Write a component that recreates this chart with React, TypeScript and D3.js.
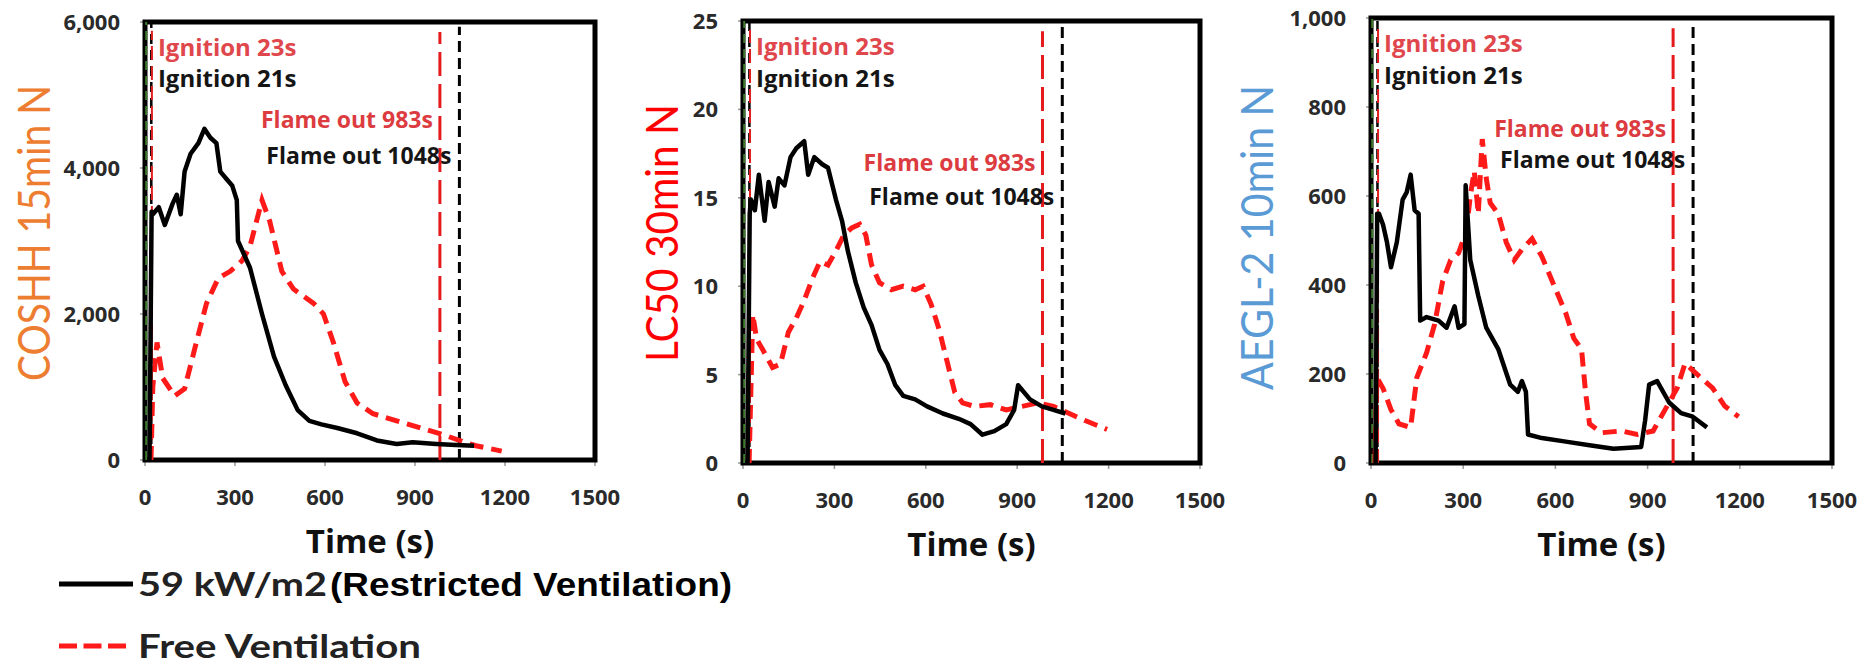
import React from 'react';
import * as d3 from 'd3';

// time axis shared by the three panels
const xTicks = [0, 300, 600, 900, 1200, 1500];

// COSHH 15min N
const coshhTicks = [0, 2000, 4000, 6000];
const coshhRestrictedT = [15, 22, 26, 46, 66, 92, 106, 119, 132, 152, 178, 198, 218, 238, 251, 271, 291, 306, 310, 350, 390, 430, 469, 509, 548, 588, 641, 707, 773, 839, 892, 971, 1037, 1097];
const coshhRestrictedV = [0, 3400, 3366, 3463, 3220, 3512, 3634, 3366, 3951, 4195, 4341, 4536, 4415, 4341, 3951, 3853, 3756, 3560, 3000, 2634, 2000, 1415, 1024, 683, 537, 488, 439, 366, 268, 220, 244, 220, 205, 195];
const coshhFreeT = [20, 26, 40, 59, 99, 132, 165, 205, 244, 284, 324, 350, 390, 416, 456, 495, 562, 595, 628, 667, 707, 760, 839, 918, 998, 1064, 1103, 1189];
const coshhFreeV = [0, 1000, 1610, 1122, 878, 976, 1512, 2146, 2488, 2585, 2732, 2927, 3561, 3268, 2585, 2341, 2146, 2000, 1610, 1073, 780, 634, 537, 439, 341, 244, 195, 122];

// LC50 30min N
const lc50Ticks = [0, 5, 10, 15, 20, 25];
const lc50RestrictedT = [15, 22, 26, 39, 52, 71, 84, 104, 117, 136, 156, 175, 201, 214, 234, 260, 279, 305, 325, 344, 370, 396, 422, 448, 474, 500, 526, 565, 604, 656, 708, 747, 786, 825, 864, 890, 903, 942, 981, 1019, 1058];
const lc50RestrictedV = [0, 14.1, 14.9, 14.3, 16.3, 13.7, 15.9, 14.5, 16.1, 15.7, 17.3, 17.8, 18.2, 16.3, 17.3, 16.9, 16.7, 14.9, 13.7, 12.0, 10.2, 8.8, 7.8, 6.4, 5.6, 4.4, 3.8, 3.6, 3.2, 2.8, 2.5, 2.2, 1.6, 1.8, 2.2, 3.0, 4.4, 3.6, 3.2, 3.0, 2.8];
const lc50FreeT = [20, 32, 45, 65, 97, 123, 149, 175, 201, 227, 253, 279, 305, 331, 357, 383, 403, 422, 448, 487, 526, 565, 591, 617, 643, 669, 695, 721, 760, 812, 864, 916, 968, 1019, 1071, 1123, 1195];
const lc50FreeV = [0, 8.4, 7.0, 6.4, 5.4, 5.6, 7.4, 8.2, 9.2, 10.4, 11.4, 11.2, 12.0, 12.9, 13.3, 13.5, 12.9, 11.2, 10.2, 9.8, 10.0, 9.8, 10.0, 9.0, 7.6, 5.8, 4.0, 3.4, 3.2, 3.3, 3.0, 3.2, 3.4, 3.2, 2.8, 2.4, 1.9];

// AEGL-2 10min N
const aeglTicks = [0, 200, 400, 600, 800, 1000];
const aeglRestrictedT = [15, 20, 26, 39, 52, 65, 84, 103, 116, 129, 142, 155, 160, 181, 220, 246, 272, 285, 304, 308, 323, 349, 375, 414, 453, 478, 491, 504, 511, 556, 634, 711, 789, 879, 892, 905, 931, 970, 1009, 1047, 1093];
const aeglRestrictedV = [0, 560, 560, 536, 496, 440, 496, 592, 608, 648, 568, 560, 320, 328, 320, 304, 352, 304, 312, 624, 456, 376, 304, 256, 176, 160, 184, 160, 64, 56, 48, 40, 32, 36, 96, 176, 184, 136, 112, 104, 80];
const aeglFreeT = [13, 19, 39, 65, 91, 129, 149, 181, 207, 233, 259, 285, 310, 323, 336, 349, 362, 375, 388, 414, 440, 466, 491, 524, 556, 595, 634, 660, 685, 698, 711, 750, 815, 866, 918, 957, 996, 1022, 1060, 1112, 1151, 1196];
const aeglFreeV = [0, 192, 168, 120, 88, 80, 192, 248, 312, 408, 456, 472, 520, 600, 656, 560, 728, 640, 584, 560, 496, 456, 480, 504, 464, 400, 336, 280, 256, 160, 88, 68, 72, 64, 72, 120, 168, 224, 200, 168, 128, 104];

// event markers (s)
const ignitionRestricted = 21;
const ignitionFree = 23;
const flameOutRestricted = 1048;
const flameOutFree = 983;

const panels = [
  {
    title: 'COSHH 15min N', color: '#ED7D31', titleLen: 296,
    left: 145, right: 595, top: 22, bottom: 460, titleDx: -95, titleDy: -8,
    ticks: coshhTicks, fmt: d3.format(','),
    rT: coshhRestrictedT, rV: coshhRestrictedV, fT: coshhFreeT, fV: coshhFreeV,
    flameFree: 0.758, flameRestr: 0.676,
  },
  {
    title: 'LC50 30min N', color: '#FF0000', titleLen: 258,
    left: 743, right: 1200, top: 21, bottom: 463, titleDx: -65, titleDy: -9,
    ticks: lc50Ticks, fmt: d3.format('d'),
    rT: lc50RestrictedT, rV: lc50RestrictedV, fT: lc50FreeT, fV: lc50FreeV,
    flameFree: 0.661, flameRestr: 0.584,
  },
  {
    title: 'AEGL-2 10min N', color: '#5B9BD5', titleLen: 305,
    left: 1371, right: 1832, top: 18, bottom: 463, titleDx: -98, titleDy: -3,
    ticks: aeglTicks, fmt: d3.format(','),
    rT: aeglRestrictedT, rV: aeglRestrictedV, fT: aeglFreeT, fV: aeglFreeV,
    flameFree: 0.733, flameRestr: 0.663,
  },
];

const TITLE_FONT = 'Lato, "Open Sans", sans-serif';
const FONT = '"Open Sans", Lato, sans-serif';

function Panel({ p }) {
  const yMax = p.ticks[p.ticks.length - 1];
  const x = d3.scaleLinear().domain([0, 1500]).range([p.left, p.right]);
  const y = d3.scaleLinear().domain([0, yMax]).range([p.bottom, p.top]);
  const line = d3.line().x((d) => x(d[0])).y((d) => y(d[1]));
  const restricted = p.rT.map((t, i) => [t, p.rV[i]]);
  const free = p.fT.map((t, i) => [t, p.fV[i]]);
  const midY = (p.top + p.bottom) / 2 + p.titleDy;

  return (
    <g>
      {/* y title */}
      <text
        transform={`translate(${p.left + p.titleDx},${midY}) rotate(-90)`}
        textAnchor="middle"
        fontFamily={TITLE_FONT}
        fontSize={44}
        fill={p.color}
        textLength={p.titleLen}
        lengthAdjust="spacingAndGlyphs"
      >
        {p.title}
      </text>

      {/* ticks */}
      {p.ticks.map((t) => (
        <g key={'y' + t}>
          <line x1={p.left - 5} x2={p.left} y1={y(t)} y2={y(t)} stroke="#999" strokeWidth={1.5} />
          <text x={p.left - 25} y={y(t)} dy="0.36em" textAnchor="end" fontFamily={FONT} fontWeight="bold" fontSize={22} fill="#2a2a2a">
            {p.fmt(t)}
          </text>
        </g>
      ))}
      {xTicks.map((t) => (
        <g key={'x' + t}>
          <line x1={x(t)} x2={x(t)} y1={p.bottom} y2={p.bottom + 6} stroke="#999" strokeWidth={1.5} />
          <text x={x(t)} y={p.bottom + 45} textAnchor="middle" fontFamily={FONT} fontWeight="bold" fontSize={22} fill="#2a2a2a">
            {t}
          </text>
        </g>
      ))}
      <text x={(p.left + p.right) / 2} y={p.bottom + 93} textAnchor="middle" fontFamily={FONT} fontWeight="bold" fontSize={33} fill="#111">
        Time (s)
      </text>

      {/* frame */}
      <rect x={p.left} y={p.top} width={p.right - p.left} height={p.bottom - p.top} fill="none" stroke="#000" strokeWidth={5} />

      {/* ignition markers */}
      <line x1={x(4)} x2={x(4)} y1={y(0)} y2={y(yMax)} stroke="#3d7a2c" strokeWidth={2} strokeDasharray="9 6" />
      <line x1={x(ignitionRestricted)} x2={x(ignitionRestricted)} y1={y(0)} y2={y(yMax)} stroke="#000" strokeWidth={2.5} strokeDasharray="10 6" />
      <line x1={x(ignitionFree)} x2={x(ignitionFree)} y1={y(0)} y2={y(yMax * 0.98)} stroke="#e02020" strokeWidth={2} strokeDasharray="14 6" />

      {/* flame out markers */}
      <line x1={x(flameOutFree)} x2={x(flameOutFree)} y1={y(0)} y2={y(yMax * 0.977)} stroke="#e41a1c" strokeWidth={3} strokeDasharray="24 8" />
      <line x1={x(flameOutRestricted)} x2={x(flameOutRestricted)} y1={y(0)} y2={y(yMax * 0.989)} stroke="#000" strokeWidth={3} strokeDasharray="11 6" />

      {/* series */}
      <path d={line(free)} fill="none" stroke="#ff1a1a" strokeWidth={5} strokeDasharray="14 8" />
      <path d={line(restricted)} fill="none" stroke="#000" strokeWidth={4.5} strokeLinejoin="round" />

      {/* labels */}
      <text x={x(ignitionFree) + 6} y={y(yMax * 0.923)} fontFamily={FONT} fontWeight="bold" fontSize={24} fill="#e0474c">
        Ignition {ignitionFree}s
      </text>
      <text x={x(ignitionFree) + 6} y={y(yMax * 0.851)} fontFamily={FONT} fontWeight="bold" fontSize={24} fill="#151515">
        Ignition {ignitionRestricted}s
      </text>
      <text x={x(flameOutFree) - 7} y={y(yMax * p.flameFree)} textAnchor="end" fontFamily={FONT} fontWeight="bold" fontSize={23} fill="#dc3b40">
        Flame out {flameOutFree}s
      </text>
      <text x={x(flameOutRestricted) - 8} y={y(yMax * p.flameRestr)} textAnchor="end" fontFamily={FONT} fontWeight="bold" fontSize={23} fill="#151515">
        Flame out {flameOutRestricted}s
      </text>
    </g>
  );
}

export default function App() {
  return (
    <svg width={1872} height={664} style={{ position: 'absolute', left: 0, top: 0, background: '#fff' }}>
      {panels.map((p) => (
        <Panel key={p.title} p={p} />
      ))}

      {/* legend */}
      <line x1={59} x2={133} y1={584} y2={584} stroke="#000" strokeWidth={5} />
      <text x={138} y={596} fontFamily={TITLE_FONT} fontWeight="bold" fontSize={33} fill="#222" textLength={189} lengthAdjust="spacingAndGlyphs">
        59 kW/m2
      </text>
      <text x={330} y={596} fontFamily='"Liberation Sans Narrow", "Liberation Sans", Arial, sans-serif' fontWeight="bold" fontSize={33} fill="#000" textLength={402} lengthAdjust="spacingAndGlyphs">
        (Restricted Ventilation)
      </text>
      <line x1={59} x2={126} y1={646} y2={646} stroke="#ff1a1a" strokeWidth={5} strokeDasharray="18 6.5" />
      <text x={138} y={658} fontFamily={TITLE_FONT} fontWeight="bold" fontSize={33} fill="#222" textLength={283} lengthAdjust="spacingAndGlyphs">
        Free Ventilation
      </text>
    </svg>
  );
}
